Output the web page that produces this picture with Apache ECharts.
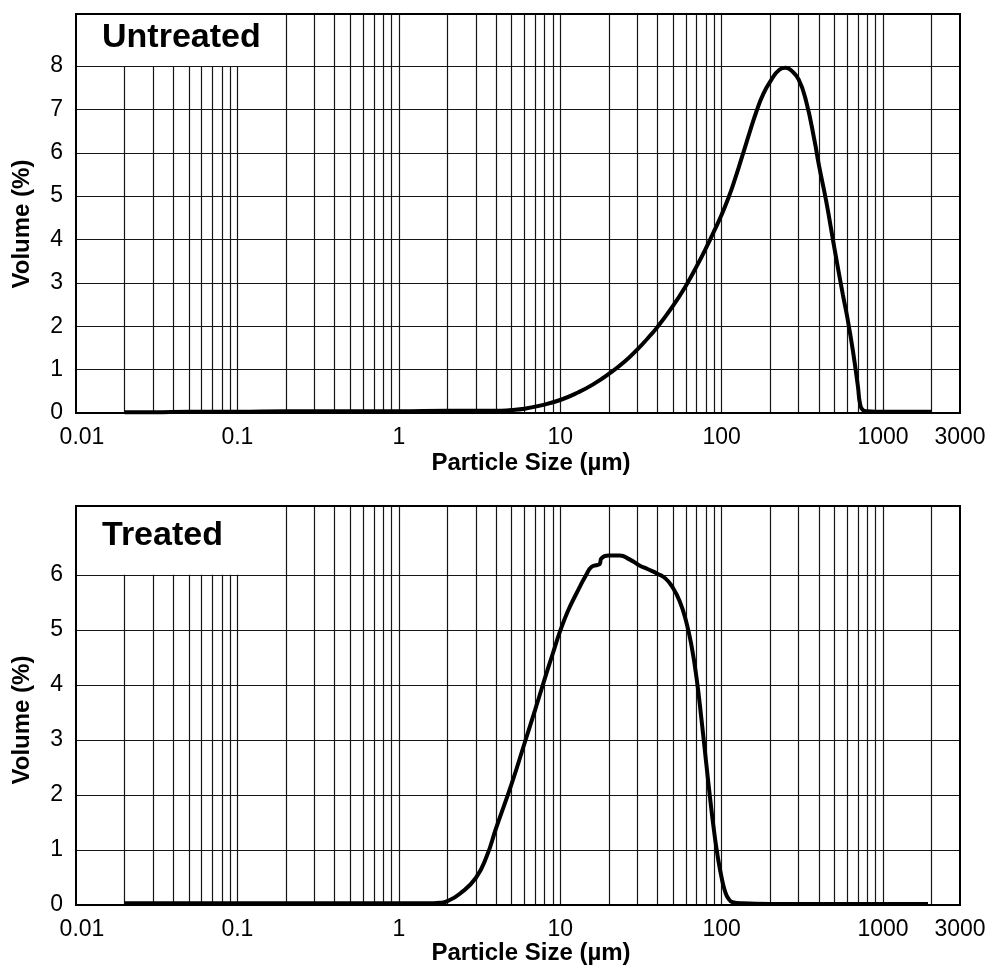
<!DOCTYPE html>
<html><head><meta charset="utf-8">
<script src="https://cdn.jsdelivr.net/npm/echarts@6/dist/echarts.min.js"></script>
<style>html,body{margin:0;padding:0;background:#fff}#c{width:993px;height:969px}</style>
</head><body><div id="c"></div>
<script>
// ---- axis ticks / labels ----
const xTickValues = [0.01, 0.1, 1, 10, 100, 1000, 3000];
const xTickLabels = ['0.01', '0.1', '1', '10', '100', '1000', '3000'];
const shortGridX = [0.02, 0.03, 0.04, 0.05, 0.06, 0.07, 0.08, 0.09, 0.1];
const fullGridX = [0.2, 0.3, 0.4, 0.5, 0.6, 0.7, 0.8, 0.9, 1, 2, 3, 4, 5, 6, 7, 8, 9,
  10, 20, 30, 40, 50, 60, 70, 80, 90, 100, 200, 300, 400, 500, 600, 700, 800, 900, 1000, 2000];
const untreatedYTicks = [0, 1, 2, 3, 4, 5, 6, 7, 8];
const treatedYTicks = [0, 1, 2, 3, 4, 5, 6];
const untreatedYMax = 9.2;
const treatedYMax = 7.25;
const untreatedShortTop = 8;
const treatedShortTop = 6;

// ---- series data (particle size in µm, volume in %) ----
const untreatedX = [0.02, 0.03, 0.05, 0.1, 0.2, 0.5, 1, 2, 3, 4, 5, 6, 7.5, 10, 13, 16, 20, 25, 30, 35, 40, 50, 60, 70, 80, 90, 100,
  110, 120, 135, 150, 165, 180, 200, 229, 250, 270, 300, 334, 377, 400, 445, 500, 564, 600, 650, 700, 720, 750, 800, 900, 1000, 1500, 2000];
const untreatedY = [0.02, 0.02, 0.03, 0.03, 0.04, 0.04, 0.04, 0.05, 0.05, 0.05, 0.07, 0.1, 0.17, 0.3, 0.48, 0.66, 0.9, 1.18, 1.46, 1.73, 1.98, 2.47, 2.93, 3.38, 3.8, 4.2, 4.57,
  4.95, 5.35, 5.95, 6.5, 6.97, 7.33, 7.64, 7.92, 7.96, 7.9, 7.69, 7.19, 6.27, 5.73, 4.88, 3.8, 2.73, 2.22, 1.45, 0.6, 0.22, 0.07, 0.04, 0.03, 0.03, 0.03, 0.03];

const treatedX = [0.02, 0.05, 0.1, 0.3, 1, 1.5, 1.8, 2, 2.4, 3, 3.5, 4, 5, 6, 7, 8, 9, 10, 11.2, 12.6, 14.5, 15.6, 17.1, 17.6, 18, 20,
  23.4, 26.9, 31, 35, 40, 45, 50, 55, 60, 65, 70, 75, 80, 85, 90, 95, 100, 105, 110, 117, 135, 200, 500, 1000, 1900];
const treatedY = [0.03, 0.03, 0.03, 0.03, 0.03, 0.03, 0.04, 0.07, 0.21, 0.49, 0.88, 1.39, 2.2, 2.93, 3.55, 4.1, 4.57, 4.98, 5.35, 5.66, 6.0, 6.14, 6.18, 6.2, 6.3, 6.35,
  6.35, 6.28, 6.17, 6.1, 6.02, 5.93, 5.76, 5.52, 5.18, 4.72, 4.12, 3.38, 2.62, 1.92, 1.32, 0.85, 0.5, 0.25, 0.12, 0.05, 0.03, 0.02, 0.02, 0.02, 0.02];

const FONT = "'Liberation Sans', Arial, Helvetica, sans-serif";
const GRID_COLOR = '#151515';

function pairs(xs, ys) { return xs.map((x, i) => [x, ys[i]]); }
function xLabel(v) {
  for (let i = 0; i < xTickValues.length; i++) {
    if (Math.abs(Math.log10(v) - Math.log10(xTickValues[i])) < 1e-6) {
      return i === 0 ? '{first|' + xTickLabels[i] + '}' : xTickLabels[i];
    }
  }
  return '';
}
function gridLines(yTicks, shortTop) {
  const d = [];
  yTicks.filter(v => v > 0).forEach(v => d.push({ yAxis: v }));
  fullGridX.forEach(v => d.push({ xAxis: v }));
  shortGridX.forEach(v => d.push([{ coord: [v, 0] }, { coord: [v, shortTop] }]));
  return d;
}

const grids = [
  { left: 76, top: 14, width: 884, height: 399 },
  { left: 76, top: 506, width: 884, height: 399 }
].map(g => Object.assign(g, { show: true, borderColor: '#000', borderWidth: 2, backgroundColor: 'transparent', z: 4 }));

function xAxisCfg(idx) {
  return {
    type: 'log', logBase: 10, gridIndex: idx, min: 0.01, max: 3000,
    axisLine: { show: false }, axisTick: { show: false }, splitLine: { show: false }, minorSplitLine: { show: false },
    axisLabel: {
      customValues: xTickValues, formatter: xLabel, color: '#000', fontSize: 23, fontFamily: FONT, margin: 13,
      showMinLabel: true, showMaxLabel: true,
      rich: { first: { padding: [0, 0, 0, 12], color: '#000', fontSize: 23, fontFamily: FONT } }
    }
  };
}
function yAxisCfg(idx, max, ticks) {
  return {
    type: 'value', gridIndex: idx, min: 0, max: max, interval: 1,
    axisLine: { show: false }, axisTick: { show: false }, splitLine: { show: false },
    axisLabel: { customValues: ticks, color: '#000', fontSize: 23, fontFamily: FONT, margin: 13 }
  };
}
function helper(idx, yTicks, shortTop) {
  return {
    type: 'line', xAxisIndex: idx, yAxisIndex: idx, data: [], z: 1, silent: true,
    markLine: {
      z: 1, silent: true, symbol: 'none', animation: false, label: { show: false },
      lineStyle: { color: GRID_COLOR, width: 1.2, type: 'solid' },
      emphasis: { disabled: true },
      data: gridLines(yTicks, shortTop)
    }
  };
}
function curve(idx, xs, ys) {
  return {
    type: 'line', xAxisIndex: idx, yAxisIndex: idx, data: pairs(xs, ys), z: 5,
    showSymbol: false, symbol: 'none', smooth: 0.5, animation: false,
    lineStyle: { color: '#000', width: 4 }
  };
}

const chart = echarts.init(document.getElementById('c'), null, { renderer: 'canvas' });
chart.setOption({
  backgroundColor: '#fff',
  animation: false,
  grid: grids,
  xAxis: [xAxisCfg(0), xAxisCfg(1)],
  yAxis: [yAxisCfg(0, untreatedYMax, untreatedYTicks), yAxisCfg(1, treatedYMax, treatedYTicks)],
  series: [
    helper(0, untreatedYTicks, untreatedShortTop),
    helper(1, treatedYTicks, treatedShortTop),
    curve(0, untreatedX, untreatedY),
    curve(1, treatedX, treatedY)
  ],
  graphic: [
    { type: 'text', x: 102, y: 38, z: 10, style: { text: 'Untreated', fill: '#000', fontSize: 34, fontWeight: 'bold', fontFamily: FONT, textAlign: 'left', textVerticalAlign: 'middle' } },
    { type: 'text', x: 102, y: 536, z: 10, style: { text: 'Treated', fill: '#000', fontSize: 34, fontWeight: 'bold', fontFamily: FONT, textAlign: 'left', textVerticalAlign: 'middle' } },
    { type: 'text', x: 22, y: 224, rotation: Math.PI / 2, z: 10, style: { text: 'Volume (%)', fill: '#000', fontSize: 24, fontWeight: 'bold', fontFamily: FONT, textAlign: 'center', textVerticalAlign: 'middle' } },
    { type: 'text', x: 22, y: 720, rotation: Math.PI / 2, z: 10, style: { text: 'Volume (%)', fill: '#000', fontSize: 24, fontWeight: 'bold', fontFamily: FONT, textAlign: 'center', textVerticalAlign: 'middle' } },
    { type: 'text', x: 531, y: 463, z: 10, style: { text: 'Particle Size (µm)', fill: '#000', fontSize: 24, fontWeight: 'bold', fontFamily: FONT, textAlign: 'center', textVerticalAlign: 'middle' } },
    { type: 'text', x: 531, y: 953, z: 10, style: { text: 'Particle Size (µm)', fill: '#000', fontSize: 24, fontWeight: 'bold', fontFamily: FONT, textAlign: 'center', textVerticalAlign: 'middle' } }
  ]
});
</script>
</body></html>
